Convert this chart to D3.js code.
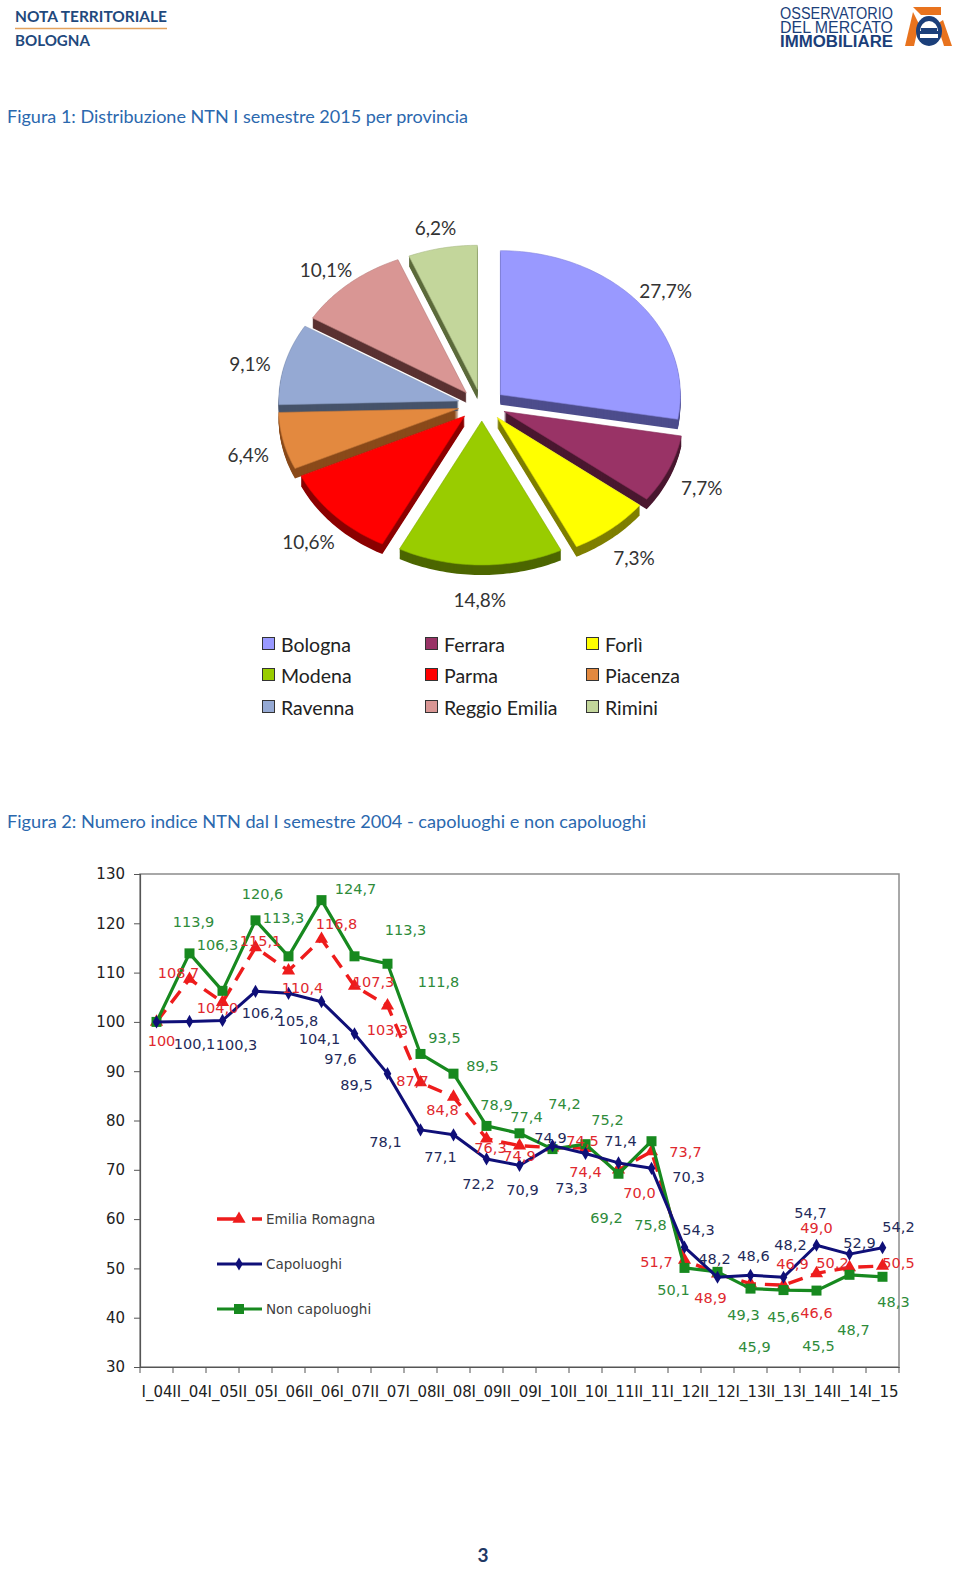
<!DOCTYPE html>
<html><head><meta charset="utf-8">
<script src="https://cdn.jsdelivr.net/npm/d3@7"></script>
<style>body{margin:0;background:#fff} svg{display:block}</style>
</head><body>
<script>
// ---------------- DATA ----------------
const provinces = ["Bologna","Ferrara","Forlì","Modena","Parma","Piacenza","Ravenna","Reggio Emilia","Rimini"];
const ntnShare = [27.7,7.7,7.3,14.8,10.6,6.4,9.1,10.1,6.2];

const semesters = ["I_04","II_04","I_05","II_05","I_06","II_06","I_07","II_07","I_08","II_08","I_09","II_09","I_10","II_10","I_11","II_11","I_12","II_12","I_13","II_13","I_14","II_14","I_15"];
const emiliaRomagna = [100,108.7,104.0,115.1,110.4,116.8,107.3,103.3,87.7,84.8,76.3,74.9,74.5,74.4,70.0,73.7,51.7,48.9,46.9,46.6,49.0,50.2,50.5];
const capoluoghi    = [100,100.1,100.3,106.2,105.8,104.1,97.6,89.5,78.1,77.1,72.2,70.9,74.9,73.3,71.4,70.3,54.3,48.2,48.6,48.2,54.7,52.9,54.2];
const nonCapoluoghi = [100,113.9,106.3,120.6,113.3,124.7,113.3,111.8,93.5,89.5,78.9,77.4,74.2,75.2,69.2,75.8,50.1,49.3,45.9,45.6,45.5,48.7,48.3];
const yTickValues = [30,40,50,60,70,80,90,100,110,120,130];

// ---------------- LAYOUT / STYLE ----------------
const pieColors = ["#9999FF","#993366","#FFFF00","#99CC00","#FF0000","#E3893F","#95A9D3","#D99694","#C3D69B"];
const pieSides  = ["#4D4D8C","#4A1830","#7F7F00","#4C6600","#8B0000","#8A4A1A","#46536A","#5A3232","#5C6B3B"];
// label nudges (px, relative to the data point) for the manually placed data labels
const nudgeER  = [[5,19],[-11,-6],[-5,6],[5,-6],[14,17],[15,-15],[19,-4],[0,24],[-8,-2],[-11,13],[4,9],[0,10],[30,-7],[0,24],[21,23],[34,0],[-28,2],[-7,24],[42,-20],[33,28],[0,-45],[-17,-4],[16,-3]];
const nudgeCap = [null,[5,23],[14,25],[7,22],[9,28],[-2,37],[-14,25],[-31,11],[-35,12],[-13,22],[-8,25],[3,25],[-2,-8],[-14,34],[2,-22],[37,9],[14,-17],[-3,-18],[3,-19],[7,-32],[-6,-32],[10,-11],[16,-21]];
const nudgeNon = [null,[4,-31],[-5,-46],[7,-26],[-5,-38],[34,-11],[51,-26],[51,18],[24,-16],[29,-8],[10,-21],[7,-16],[12,-45],[22,-24],[-12,44],[-1,84],[-11,22],[26,43],[4,58],[0,27],[2,55],[4,55],[11,25]];

const W = 960, H = 1569;
const svg = d3.select("body").append("svg").attr("width", W).attr("height", H);
const fmt = v => (v === 100) ? "100" : d3.format(".1f")(v).replace(".", ",");

// ---------------- HEADER ----------------
const hdrBlue = "#1F497D";
svg.append("text").attr("x", 15).attr("y", 22).attr("font-family", "Lato, sans-serif").attr("font-weight", 700)
  .attr("font-size", 15).attr("fill", hdrBlue).attr("textLength", 152).attr("lengthAdjust", "spacingAndGlyphs").text("NOTA TERRITORIALE");
svg.append("line").attr("x1", 15).attr("x2", 167).attr("y1", 28.5).attr("y2", 28.5).attr("stroke", "#E3A25E").attr("stroke-width", 1.5);
svg.append("text").attr("x", 15).attr("y", 46).attr("font-family", "Lato, sans-serif").attr("font-weight", 700)
  .attr("font-size", 15).attr("fill", hdrBlue).attr("textLength", 75).attr("lengthAdjust", "spacingAndGlyphs").text("BOLOGNA");

// logo
const logoBlue = "#1B3F7A";
[["OSSERVATORIO", 19, 400], ["DEL MERCATO", 33, 400], ["IMMOBILIARE", 47, 700]].forEach(([t, yy, w]) => {
  svg.append("text").attr("x", 780).attr("y", yy).attr("font-family", "Liberation Sans, Arial, sans-serif")
    .attr("font-weight", w).attr("font-size", 16).attr("fill", logoBlue)
    .attr("textLength", 113).attr("lengthAdjust", "spacingAndGlyphs").text(t);
});
const logo = svg.append("g");
logo.append("path").attr("d", "M913,7 L941,7 L941,15 L921,15 Z").attr("fill", "#E8731E");
logo.append("path").attr("d", "M913,12 L905,46 L914,46 L919,24 Z").attr("fill", "#E8731E");
logo.append("path").attr("d", "M937,24 L944,46 L952,46 L943,20 Z").attr("fill", "#E8731E");
logo.append("ellipse").attr("cx", 929).attr("cy", 31).attr("rx", 13).attr("ry", 15).attr("fill", logoBlue);
logo.append("path").attr("d", "M920,31 A9,10 0 1 1 938,31 Z").attr("fill", "#fff");
logo.append("path").attr("d", "M921,28 L937,28 L937,31 L921,31 Z").attr("fill", logoBlue);
logo.append("path").attr("d", "M920,34 L938,34 L938,38 L920,38 Z").attr("fill", "#fff");

// ---------------- TITLES ----------------
const titleBlue = "#2B68AE";
svg.append("text").attr("x", 7).attr("y", 123).attr("font-family", "Lato, sans-serif").attr("font-size", 18)
  .attr("fill", titleBlue).attr("textLength", 461).attr("lengthAdjust", "spacingAndGlyphs")
  .text("Figura 1: Distribuzione NTN I semestre 2015 per provincia");
svg.append("text").attr("x", 7).attr("y", 828).attr("font-family", "Lato, sans-serif").attr("font-size", 18)
  .attr("fill", titleBlue).attr("textLength", 639).attr("lengthAdjust", "spacingAndGlyphs")
  .text("Figura 2: Numero indice NTN dal I semestre 2004 - capoluoghi e non capoluoghi");

// ---------------- PIE (3D exploded) ----------------
const P = {cx: 482, cy: 405, rx: 180, ry: 144, ex: 24, ey: 16, depth: 10, lcx: 482, lcy: 412, lrx: 240, lry: 188};
const arcs = d3.pie().sort(null).value(d => d)(ntnShare);
function slicePts(a) {
  const mid = (a.startAngle + a.endAngle) / 2;
  const ox = P.cx + P.ex * Math.sin(mid), oy = P.cy - P.ey * Math.cos(mid);
  const n = Math.max(6, Math.ceil((a.endAngle - a.startAngle) / 0.02));
  const pts = [[ox, oy]];
  for (let i = 0; i <= n; i++) {
    const t = a.startAngle + (a.endAngle - a.startAngle) * i / n;
    pts.push([ox + P.rx * Math.sin(t), oy - P.ry * Math.cos(t)]);
  }
  return pts;
}
const closed = d3.line().curve(d3.curveLinearClosed);
const pieG = svg.append("g");
arcs.forEach((a, i) => {
  const d = closed(slicePts(a));
  for (let k = P.depth; k >= 1; k--) {
    pieG.append("path").attr("d", d).attr("transform", `translate(0,${k})`).attr("fill", pieSides[i]);
  }
});
arcs.forEach((a, i) => {
  pieG.append("path").attr("d", closed(slicePts(a))).attr("fill", pieColors[i])
    .attr("stroke", d3.color(pieColors[i]).darker(0.4)).attr("stroke-width", 0.6);
});
arcs.forEach((a, i) => {
  const mid = (a.startAngle + a.endAngle) / 2;
  svg.append("text").attr("x", P.lcx + P.lrx * Math.sin(mid)).attr("y", P.lcy - P.lry * Math.cos(mid))
    .attr("text-anchor", "middle").attr("dominant-baseline", "central")
    .attr("font-family", "Lato, sans-serif").attr("font-size", 19).attr("fill", "#333")
    .text(d3.format(".1f")(ntnShare[i]).replace(".", ",") + "%");
});

// pie legend
const legCols = [263, 426, 587], legRows = [644, 675, 707];
provinces.forEach((p, i) => {
  const lx = legCols[i % 3], ly = legRows[Math.floor(i / 3)];
  svg.append("rect").attr("x", lx - 0.5).attr("y", ly - 6.5).attr("width", 12).attr("height", 12)
    .attr("fill", pieColors[i]).attr("stroke", "#333").attr("stroke-width", 1);
  svg.append("text").attr("x", lx + 18).attr("y", ly).attr("dominant-baseline", "central")
    .attr("font-family", "Lato, sans-serif").attr("font-size", 19.5).attr("fill", "#222").text(p);
});

// ---------------- LINE CHART ----------------
const L = {x0: 140, x1: 899, y0: 874, y1: 1367};
const x = d3.scalePoint().domain(semesters).range([L.x0, L.x1]).padding(0.5);
const y = d3.scaleLinear().domain([30, 130]).range([L.y1, L.y0]);
const step = x.step();
const chart = svg.append("g");

chart.append("rect").attr("x", L.x0).attr("y", L.y0).attr("width", L.x1 - L.x0).attr("height", L.y1 - L.y0)
  .attr("fill", "none").attr("stroke", "#8C8C8C").attr("stroke-width", 1.5);

const yAxis = d3.axisLeft(y).tickValues(yTickValues).tickSize(6).tickPadding(9).tickFormat(d3.format("d"));
const yg = chart.append("g").attr("transform", `translate(${L.x0},0)`).call(yAxis);
yg.select(".domain").attr("stroke", "#555").attr("stroke-width", 1.2);
yg.selectAll(".tick line").attr("stroke", "#555");
yg.selectAll(".tick text").attr("font-family", "DejaVu Sans, sans-serif").attr("font-size", 15).attr("fill", "#222");

const xAxis = d3.axisBottom(x).tickSize(0).tickPadding(19);
const xg = chart.append("g").attr("transform", `translate(0,${L.y1})`).call(xAxis);
xg.select(".domain").attr("stroke", "#555").attr("stroke-width", 1.2);
xg.selectAll(".tick text").attr("font-family", "DejaVu Sans, sans-serif").attr("font-size", 15).attr("fill", "#222");
xg.selectAll(".sep").data(d3.range(semesters.length + 1)).join("line")
  .attr("x1", i => L.x0 + i * step).attr("x2", i => L.x0 + i * step)
  .attr("y1", 0).attr("y2", 6).attr("stroke", "#555");

const series = [
  {name: "Non capoluoghi", values: nonCapoluoghi, color: "#17891F", label: "#2E8B3A", width: 3.2, dash: null, marker: "square", nudge: nudgeNon},
  {name: "Capoluoghi", values: capoluoghi, color: "#0F0F78", label: "#1F2A5A", width: 3, dash: null, marker: "diamond", nudge: nudgeCap},
  {name: "Emilia Romagna", values: emiliaRomagna, color: "#EE1C1C", label: "#E0282E", width: 3.4, dash: "15,9", marker: "triangle", nudge: nudgeER}
];
const symType = {square: d3.symbolSquare, diamond: d3.symbolDiamond, triangle: d3.symbolTriangle};
const symSize = {square: 100, diamond: 50, triangle: 75};
const lineGen = d3.line().x((d, i) => x(semesters[i])).y(d => y(d));

[2, 0, 1].forEach(si => {
  const s = series[si];
  chart.append("path").attr("d", lineGen(s.values)).attr("fill", "none")
    .attr("stroke", s.color).attr("stroke-width", s.width).attr("stroke-linejoin", "round")
    .attr("stroke-dasharray", s.dash);
  chart.selectAll(null).data(s.values).join("path")
    .attr("transform", (d, i) => `translate(${x(semesters[i])},${y(d)})`)
    .attr("d", d3.symbol().type(symType[s.marker]).size(symSize[s.marker]))
    .attr("fill", s.color);
});
series.forEach(s => {
  s.values.forEach((v, i) => {
    const n = s.nudge[i];
    if (!n) return;
    chart.append("text").attr("x", x(semesters[i]) + n[0]).attr("y", y(v) + n[1])
      .attr("text-anchor", "middle").attr("dominant-baseline", "central")
      .attr("font-family", "DejaVu Sans, sans-serif").attr("font-size", 14.5).attr("fill", s.label)
      .text(fmt(v));
  });
});

const legY = [1219, 1264, 1309];
[2, 1, 0].forEach((si, k) => {
  const s = series[si];
  const gy = legY[k];
  chart.append("line").attr("x1", 217).attr("x2", 262).attr("y1", gy).attr("y2", gy)
    .attr("stroke", s.color).attr("stroke-width", s.width).attr("stroke-dasharray", s.dash ? "22,13,10" : null);
  chart.append("path").attr("transform", `translate(239,${gy})`)
    .attr("d", d3.symbol().type(symType[s.marker]).size(symSize[s.marker])).attr("fill", s.color);
  chart.append("text").attr("x", 266).attr("y", gy).attr("dominant-baseline", "central")
    .attr("font-family", "DejaVu Sans, sans-serif").attr("font-size", 13.5).attr("fill", "#404040").text(s.name);
});

svg.append("text").attr("x", 483).attr("y", 1562).attr("text-anchor", "middle")
  .attr("font-family", "Lato, sans-serif").attr("font-weight", 700).attr("font-size", 19).attr("fill", "#1F3864").text("3");
</script>
</body></html>
